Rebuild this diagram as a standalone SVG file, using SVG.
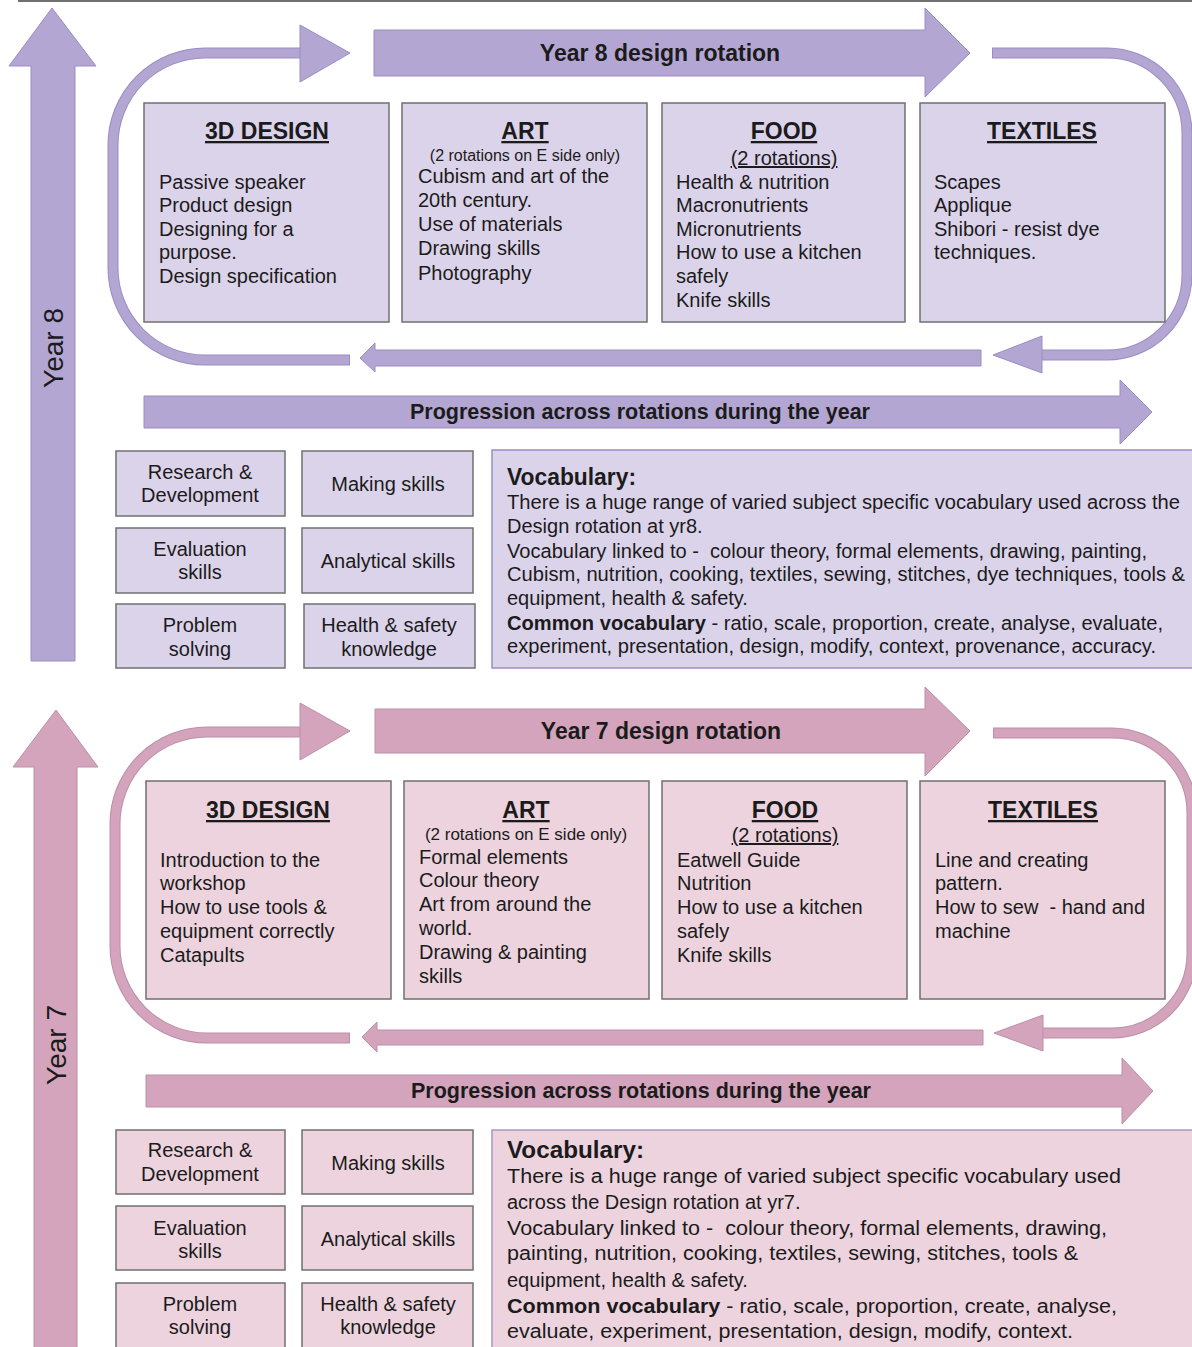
<svg xmlns="http://www.w3.org/2000/svg" width="1192" height="1347" viewBox="0 0 1192 1347">
  <style>
    text { font-family: "Liberation Sans", Arial, sans-serif; fill: #1b1b1b; }
    .title { font-size: 23px; font-weight: bold; text-anchor: middle; text-decoration: underline; }
    .body { font-size: 20px; }
    .mid { text-anchor: middle; }
    .note { font-size: 16px; text-anchor: middle; }
    .banner { font-size: 23px; font-weight: bold; text-anchor: middle; }
    .prog { font-size: 21.5px; font-weight: bold; text-anchor: middle; }
    .year { font-size: 28px; text-anchor: middle; }
    .vhead { font-size: 23px; font-weight: bold; }
    .b { font-weight: bold; }
    .box8 { fill: #dbd3ea; stroke: #707070; stroke-width: 1.5; }
    .box7 { fill: #ecd3de; stroke: #707070; stroke-width: 1.5; }
    .voc8 { fill: #dbd3ea; stroke: #9b8dc6; stroke-width: 1.5; }
    .voc7 { fill: #ecd3de; stroke: #a897c6; stroke-width: 1.5; }
    .arr8 { fill: #b3a6d3; stroke: #9b8dc3; stroke-width: 1; }
    .arr7 { fill: #d3a4bc; stroke: #bb8fa8; stroke-width: 1; }
    .band8o { fill: none; stroke: #9b8dc3; stroke-width: 11; }
    .band8i { fill: none; stroke: #b3a6d3; stroke-width: 9; }
    .band7o { fill: none; stroke: #bb8fa8; stroke-width: 11; }
    .band7i { fill: none; stroke: #d3a4bc; stroke-width: 9; }
  </style>

  <!-- page rule -->
  <line x1="18" y1="1" x2="1192" y2="1" stroke="#707070" stroke-width="2"/>

  <g id="connectors">
    <!-- ===== Year 8 ===== -->
    <!-- year arrow -->
    <polygon class="arr8" points="52,8 96,66 75,66 75,661 31,661 31,66 9,66"/>
    <!-- left loop -->
    <path class="band8o" d="M 301 53 H 205 A 92 92 0 0 0 113 145 V 268 A 92 92 0 0 0 205 360 H 350"/>
    <path class="band8i" d="M 302 53 H 205 A 92 92 0 0 0 113 145 V 268 A 92 92 0 0 0 205 360 H 349"/>
    <polygon class="arr8" points="300,25 350,53 300,82"/>
    <!-- right loop -->
    <path class="band8o" d="M 992 53 H 1107 A 80 80 0 0 1 1187 133 V 275 A 80 80 0 0 1 1107 355 H 1040"/>
    <path class="band8i" d="M 993 53 H 1107 A 80 80 0 0 1 1187 133 V 275 A 80 80 0 0 1 1107 355 H 1041"/>
    <polygon class="arr8" points="993,355 1042,336 1042,373"/>
    <!-- lower return arrow -->
    <polygon class="arr8" points="360,358 375,343 375,350 981,350 981,366 375,366 375,372"/>
    <!-- progression arrow -->
    <polygon class="arr8" points="144,396 1120,396 1120,380 1152,412 1120,444 1120,428 144,428"/>

    <!-- ===== Year 7 ===== -->
    <polygon class="arr7" points="56,710 98,767 77,767 77,1350 34,1350 34,767 13,767"/>
    <path class="band7o" d="M 301 732 H 207 A 92 92 0 0 0 115 824 V 946 A 92 92 0 0 0 207 1038 H 350"/>
    <path class="band7i" d="M 302 732 H 207 A 92 92 0 0 0 115 824 V 946 A 92 92 0 0 0 207 1038 H 349"/>
    <polygon class="arr7" points="300,703 350,731 300,760"/>
    <path class="band7o" d="M 993 733 H 1112 A 80 80 0 0 1 1192 813 V 953 A 80 80 0 0 1 1112 1033 H 1041"/>
    <path class="band7i" d="M 994 733 H 1112 A 80 80 0 0 1 1192 813 V 953 A 80 80 0 0 1 1112 1033 H 1042"/>
    <polygon class="arr7" points="994,1033 1043,1015 1043,1051"/>
    <polygon class="arr7" points="362,1037 377,1022 377,1030 983,1030 983,1045 377,1045 377,1052"/>
    <polygon class="arr7" points="146,1075 1122,1075 1122,1058 1153,1091 1122,1124 1122,1107 146,1107"/>
  </g>

  <!-- ===== Year 8 labels and banner ===== -->
  <g id="year8-label">
    <text class="year" transform="translate(63,348) rotate(-90)">Year 8</text>
  </g>
  <g id="year8-rotation">
    <polygon class="arr8" points="374,30 925,30 925,8 970,53 925,97 925,76 374,76"/>
    <text class="banner" x="660" y="61">Year 8 design rotation</text>
  </g>
  <g id="year8-progression">
    <text class="prog" x="640" y="419">Progression across rotations during the year</text>
  </g>

  <g id="y8-3d-design">
    <rect class="box8" x="144" y="103" width="245" height="219"/>
    <text class="title" x="267" y="139">3D DESIGN</text>
    <text class="body" x="159" y="189">Passive speaker</text>
    <text class="body" x="159" y="212">Product design</text>
    <text class="body" x="159" y="236">Designing for a</text>
    <text class="body" x="159" y="259">purpose.</text>
    <text class="body" x="159" y="283">Design specification</text>
  </g>
  <g id="y8-art">
    <rect class="box8" x="402" y="103" width="245" height="219"/>
    <text class="title" x="525" y="139">ART</text>
    <text class="note" x="525" y="161">(2 rotations on E side only)</text>
    <text class="body" x="418" y="183">Cubism and art of the</text>
    <text class="body" x="418" y="207">20th century.</text>
    <text class="body" x="418" y="231">Use of materials</text>
    <text class="body" x="418" y="255">Drawing skills</text>
    <text class="body" x="418" y="280">Photography</text>
  </g>
  <g id="y8-food">
    <rect class="box8" x="662" y="103" width="243" height="219"/>
    <text class="title" x="784" y="139">FOOD</text>
    <text class="body mid" x="784" y="165" text-decoration="underline">(2 rotations)</text>
    <text class="body" x="676" y="189">Health &amp; nutrition</text>
    <text class="body" x="676" y="212">Macronutrients</text>
    <text class="body" x="676" y="236">Micronutrients</text>
    <text class="body" x="676" y="259">How to use a kitchen</text>
    <text class="body" x="676" y="283">safely</text>
    <text class="body" x="676" y="307">Knife skills</text>
  </g>
  <g id="y8-textiles">
    <rect class="box8" x="920" y="103" width="245" height="219"/>
    <text class="title" x="1042" y="139">TEXTILES</text>
    <text class="body" x="934" y="189">Scapes</text>
    <text class="body" x="934" y="212">Applique</text>
    <text class="body" x="934" y="236">Shibori - resist dye</text>
    <text class="body" x="934" y="259">techniques.</text>
  </g>

  <g id="y8-research">
    <rect class="box8" x="116" y="451" width="169" height="65"/>
    <text class="body mid" x="200" y="479">Research &amp;</text>
    <text class="body mid" x="200" y="502">Development</text>
  </g>
  <g id="y8-making">
    <rect class="box8" x="302" y="451" width="171" height="65"/>
    <text class="body mid" x="388" y="491">Making skills</text>
  </g>
  <g id="y8-evaluation">
    <rect class="box8" x="116" y="528" width="169" height="65"/>
    <text class="body mid" x="200" y="556">Evaluation</text>
    <text class="body mid" x="200" y="579">skills</text>
  </g>
  <g id="y8-analytical">
    <rect class="box8" x="302" y="528" width="171" height="65"/>
    <text class="body mid" x="388" y="568">Analytical skills</text>
  </g>
  <g id="y8-problem">
    <rect class="box8" x="116" y="604" width="169" height="64"/>
    <text class="body mid" x="200" y="632">Problem</text>
    <text class="body mid" x="200" y="656">solving</text>
  </g>
  <g id="y8-health">
    <rect class="box8" x="304" y="604" width="171" height="64"/>
    <text class="body mid" x="389" y="632">Health &amp; safety</text>
    <text class="body mid" x="389" y="656">knowledge</text>
  </g>

  <g id="y8-vocabulary">
    <rect class="voc8" x="492" y="450" width="710" height="218"/>
    <text class="vhead" x="507" y="485" textLength="129" lengthAdjust="spacingAndGlyphs">Vocabulary:</text>
    <text class="body" x="507" y="509" textLength="673" lengthAdjust="spacingAndGlyphs">There is a huge range of varied subject specific vocabulary used across the</text>
    <text class="body" x="507" y="533">Design rotation at yr8.</text>
    <text class="body" x="507" y="558" textLength="640" lengthAdjust="spacingAndGlyphs" xml:space="preserve">Vocabulary linked to -  colour theory, formal elements, drawing, painting,</text>
    <text class="body" x="507" y="581" textLength="678" lengthAdjust="spacingAndGlyphs">Cubism, nutrition, cooking, textiles, sewing, stitches, dye techniques, tools &amp;</text>
    <text class="body" x="507" y="605">equipment, health &amp; safety.</text>
    <text class="body" x="507" y="630" textLength="656" lengthAdjust="spacingAndGlyphs"><tspan class="b">Common vocabulary</tspan> - ratio, scale, proportion, create, analyse, evaluate,</text>
    <text class="body" x="507" y="653" textLength="649" lengthAdjust="spacingAndGlyphs">experiment, presentation, design, modify, context, provenance, accuracy.</text>
  </g>

  <!-- ===== Year 7 labels and banner ===== -->
  <g id="year7-label">
    <text class="year" transform="translate(66,1045) rotate(-90)">Year 7</text>
  </g>
  <g id="year7-rotation">
    <polygon class="arr7" points="375,709 925,709 925,687 970,731 925,776 925,753 375,753"/>
    <text class="banner" x="661" y="739">Year 7 design rotation</text>
  </g>
  <g id="year7-progression">
    <text class="prog" x="641" y="1098">Progression across rotations during the year</text>
  </g>

  <g id="y7-3d-design">
    <rect class="box7" x="146" y="781" width="245" height="218"/>
    <text class="title" x="268" y="818">3D DESIGN</text>
    <text class="body" x="160" y="867">Introduction to the</text>
    <text class="body" x="160" y="890">workshop</text>
    <text class="body" x="160" y="914">How to use tools &amp;</text>
    <text class="body" x="160" y="938">equipment correctly</text>
    <text class="body" x="160" y="962">Catapults</text>
  </g>
  <g id="y7-art">
    <rect class="box7" x="404" y="781" width="245" height="218"/>
    <text class="title" x="526" y="818">ART</text>
    <text class="note" x="526" y="840" style="font-size:17px">(2 rotations on E side only)</text>
    <text class="body" x="419" y="864">Formal elements</text>
    <text class="body" x="419" y="887">Colour theory</text>
    <text class="body" x="419" y="911">Art from around the</text>
    <text class="body" x="419" y="935">world.</text>
    <text class="body" x="419" y="959">Drawing &amp; painting</text>
    <text class="body" x="419" y="983">skills</text>
  </g>
  <g id="y7-food">
    <rect class="box7" x="662" y="781" width="245" height="218"/>
    <text class="title" x="785" y="818">FOOD</text>
    <text class="body mid" x="785" y="842" text-decoration="underline">(2 rotations)</text>
    <text class="body" x="677" y="867">Eatwell Guide</text>
    <text class="body" x="677" y="890">Nutrition</text>
    <text class="body" x="677" y="914">How to use a kitchen</text>
    <text class="body" x="677" y="938">safely</text>
    <text class="body" x="677" y="962">Knife skills</text>
  </g>
  <g id="y7-textiles">
    <rect class="box7" x="920" y="781" width="245" height="218"/>
    <text class="title" x="1043" y="818">TEXTILES</text>
    <text class="body" x="935" y="867">Line and creating</text>
    <text class="body" x="935" y="890">pattern.</text>
    <text class="body" x="935" y="914" xml:space="preserve">How to sew  - hand and</text>
    <text class="body" x="935" y="938">machine</text>
  </g>

  <g id="y7-research">
    <rect class="box7" x="116" y="1130" width="169" height="64"/>
    <text class="body mid" x="200" y="1157">Research &amp;</text>
    <text class="body mid" x="200" y="1181">Development</text>
  </g>
  <g id="y7-making">
    <rect class="box7" x="302" y="1130" width="171" height="64"/>
    <text class="body mid" x="388" y="1170">Making skills</text>
  </g>
  <g id="y7-evaluation">
    <rect class="box7" x="116" y="1206" width="169" height="64"/>
    <text class="body mid" x="200" y="1235">Evaluation</text>
    <text class="body mid" x="200" y="1258">skills</text>
  </g>
  <g id="y7-analytical">
    <rect class="box7" x="302" y="1206" width="171" height="64"/>
    <text class="body mid" x="388" y="1246">Analytical skills</text>
  </g>
  <g id="y7-problem">
    <rect class="box7" x="116" y="1283" width="169" height="70"/>
    <text class="body mid" x="200" y="1311">Problem</text>
    <text class="body mid" x="200" y="1334">solving</text>
  </g>
  <g id="y7-health">
    <rect class="box7" x="302" y="1283" width="171" height="70"/>
    <text class="body mid" x="388" y="1311">Health &amp; safety</text>
    <text class="body mid" x="388" y="1334">knowledge</text>
  </g>

  <g id="y7-vocabulary">
    <rect class="voc7" x="492" y="1130" width="710" height="225"/>
    <text class="vhead" x="507" y="1158" style="font-size:24px" textLength="137" lengthAdjust="spacingAndGlyphs">Vocabulary:</text>
    <text class="body" x="507" y="1183" textLength="614" lengthAdjust="spacingAndGlyphs">There is a huge range of varied subject specific vocabulary used</text>
    <text class="body" x="507" y="1209">across the Design rotation at yr7.</text>
    <text class="body" x="507" y="1235" textLength="600" lengthAdjust="spacingAndGlyphs" xml:space="preserve">Vocabulary linked to -  colour theory, formal elements, drawing,</text>
    <text class="body" x="507" y="1260" textLength="571" lengthAdjust="spacingAndGlyphs">painting, nutrition, cooking, textiles, sewing, stitches, tools &amp;</text>
    <text class="body" x="507" y="1287">equipment, health &amp; safety.</text>
    <text class="body" x="507" y="1313" textLength="610" lengthAdjust="spacingAndGlyphs"><tspan class="b">Common vocabulary</tspan> - ratio, scale, proportion, create, analyse,</text>
    <text class="body" x="507" y="1338" textLength="566" lengthAdjust="spacingAndGlyphs">evaluate, experiment, presentation, design, modify, context.</text>
  </g>
</svg>
